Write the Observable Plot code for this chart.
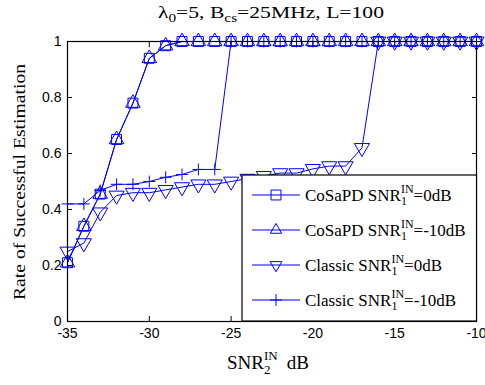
<!DOCTYPE html>
<html><head><meta charset="utf-8">
<script src="https://cdn.jsdelivr.net/npm/d3@7"></script>
<script src="https://cdn.jsdelivr.net/npm/@observablehq/plot@0.6"></script>
<style>
body{margin:0;background:#fff;}
#chart{position:relative;width:485px;height:385px;}
</style></head><body><div id="chart"></div>
<script>
// SNR2^IN (dB)
const snr2 = [-35,-34,-33,-32,-31,-30,-29,-28,-27,-26,-25,-24,-23,-22,-21,-20,-19,-18,-17,-16,-15,-14,-13,-12,-11,-10];
// CoSaPD, SNR1^IN = 0 dB
const cosapd0dB = [0.21,0.34,0.455,0.65,0.78,0.94,0.985,1,1,1,1,1,1,1,1,1,1,1,1,1,1,1,1,1,1,1];
// CoSaPD, SNR1^IN = -10 dB
const cosapdMinus10dB = [0.21,0.34,0.455,0.65,0.78,0.94,0.985,1,1,1,1,1,1,1,1,1,1,1,1,1,1,1,1,1,1,1];
// Classic, SNR1^IN = 0 dB
const classic0dB = [0.25,0.28,0.39,0.45,0.46,0.46,0.47,0.48,0.49,0.49,0.50,0.51,0.52,0.53,0.53,0.545,0.555,0.555,0.62,1,1,1,1,1,1,1];
// Classic, SNR1^IN = -10 dB
const classicMinus10dB = [0.42,0.42,0.468,0.49,0.49,0.50,0.515,0.525,0.543,0.543,1,1,1,1,1,1,1,1,1,1,1,1,1,1,1,1];

const xTicks = [-35,-30,-25,-20,-15,-10];
const yTicks = [0,0.2,0.4,0.6,0.8,1];
const seriesNames = ["CoSaPD", "CoSaPD", "Classic", "Classic"];
const seriesSnr1 = ["=0dB", "=-10dB", "=0dB", "=-10dB"];

const blue = "#0000ff";
const rows = ys => snr2.map((x, i) => ({x, y: ys[i]}));
const series = [
  {data: rows(cosapd0dB), symbol: "square", r: 5.6, rotate: 0},
  {data: rows(cosapdMinus10dB), symbol: "triangle", r: 5.4, rotate: 0},
  {data: rows(classic0dB), symbol: "triangle", r: 5.6, rotate: 180},
  {data: rows(classicMinus10dB), symbol: "plus", r: 3.9, rotate: 0}
];

const marks = [
  Plot.axisX({ticks: xTicks, tickSize: -5, tickPadding: 12, label: null, tickFormat: d => String(d), fontSize: 14}),
  Plot.axisX({anchor: "top", ticks: xTicks, tickSize: -5, label: null, tickFormat: () => ""}),
  Plot.axisY({ticks: yTicks, tickSize: -5, tickPadding: 11, label: null, tickFormat: d => String(d), fontSize: 14}),
  Plot.axisY({anchor: "right", ticks: yTicks, tickSize: -5, label: null, tickFormat: () => ""})
];
for (const s of series) {
  marks.push(Plot.line(s.data, {x: "x", y: "y", stroke: blue, strokeWidth: 1}));
  marks.push(Plot.dot(s.data, {x: "x", y: "y", symbol: s.symbol, r: s.r, rotate: s.rotate, stroke: blue, fill: "none", strokeWidth: 1}));
}
marks.push(Plot.frame({stroke: "black", strokeWidth: 1.2}));

const chart = Plot.plot({
  width: 485, height: 385,
  marginLeft: 67, marginRight: 9, marginTop: 41, marginBottom: 64,
  style: {fontFamily: "'Liberation Sans', Arial, sans-serif", fontSize: "14px", background: "white", color: "black", overflow: "visible"},
  x: {domain: [-35, -10]},
  y: {domain: [0, 1]},
  marks
});
document.getElementById("chart").appendChild(chart);

const serif = "'Liberation Serif', 'Times New Roman', serif";
const svg = d3.select(chart);

// Title
const title = svg.append("text").attr("x", 271).attr("y", 18).attr("text-anchor", "middle")
  .attr("font-family", serif).attr("font-size", 17).attr("fill", "black")
  .attr("textLength", 226).attr("lengthAdjust", "spacingAndGlyphs");
title.append("tspan").text("λ");
title.append("tspan").attr("dy", 4).attr("font-size", 12).text("0");
title.append("tspan").attr("dy", -4).text("=5, B");
title.append("tspan").attr("dy", 4).attr("font-size", 12).text("cs");
title.append("tspan").attr("dy", -4).text("=25MHz, L=100");

// Y label
svg.append("text").attr("transform", "translate(25,182) rotate(-90)").attr("text-anchor", "middle")
  .attr("font-family", serif).attr("font-size", 17).attr("fill", "black")
  .attr("textLength", 236).attr("lengthAdjust", "spacingAndGlyphs")
  .text("Rate of Successful Estimation");

// X label
const xl = svg.append("text").attr("x", 227).attr("y", 369).attr("text-anchor", "start")
  .attr("font-family", serif).attr("font-size", 19).attr("fill", "black");
xl.append("tspan").text("SNR");
xl.append("tspan").attr("dy", 5).attr("font-size", 13).text("2");
xl.append("tspan").attr("dx", -6.5).attr("dy", -14).attr("font-size", 13).text("IN");
xl.append("tspan").attr("dy", 9).attr("dx", 9).text("dB");

// Legend
const lg = svg.append("g");
lg.append("rect").attr("x", 242).attr("y", 175).attr("width", 234.5).attr("height", 146)
  .attr("fill", "white").attr("stroke", "black").attr("stroke-width", 1.2);
const rowY = [195, 230, 265, 300];
const symMap = {square: d3.symbolSquare, triangle: d3.symbolTriangle2, plus: d3.symbolPlus};
series.forEach((s, i) => {
  const y = rowY[i];
  lg.append("line").attr("x1", 252).attr("x2", 300).attr("y1", y).attr("y2", y).attr("stroke", blue).attr("stroke-width", 1);
  lg.append("path").attr("d", d3.symbol(symMap[s.symbol], Math.PI * s.r * s.r)())
    .attr("transform", `translate(276,${y}) rotate(${s.rotate})`)
    .attr("fill", "none").attr("stroke", blue).attr("stroke-width", 1);
  const t = lg.append("text").attr("x", 305).attr("y", y + 5.5).attr("text-anchor", "start")
    .attr("font-family", serif).attr("font-size", 17).attr("fill", "black");
  t.append("tspan").text(seriesNames[i] + " SNR");
  t.append("tspan").attr("dy", 4).attr("font-size", 12).text("1");
  t.append("tspan").attr("dx", -6).attr("dy", -12).attr("font-size", 12).text("IN");
  t.append("tspan").attr("dy", 8).text(seriesSnr1[i]);
});
</script>
</body></html>
